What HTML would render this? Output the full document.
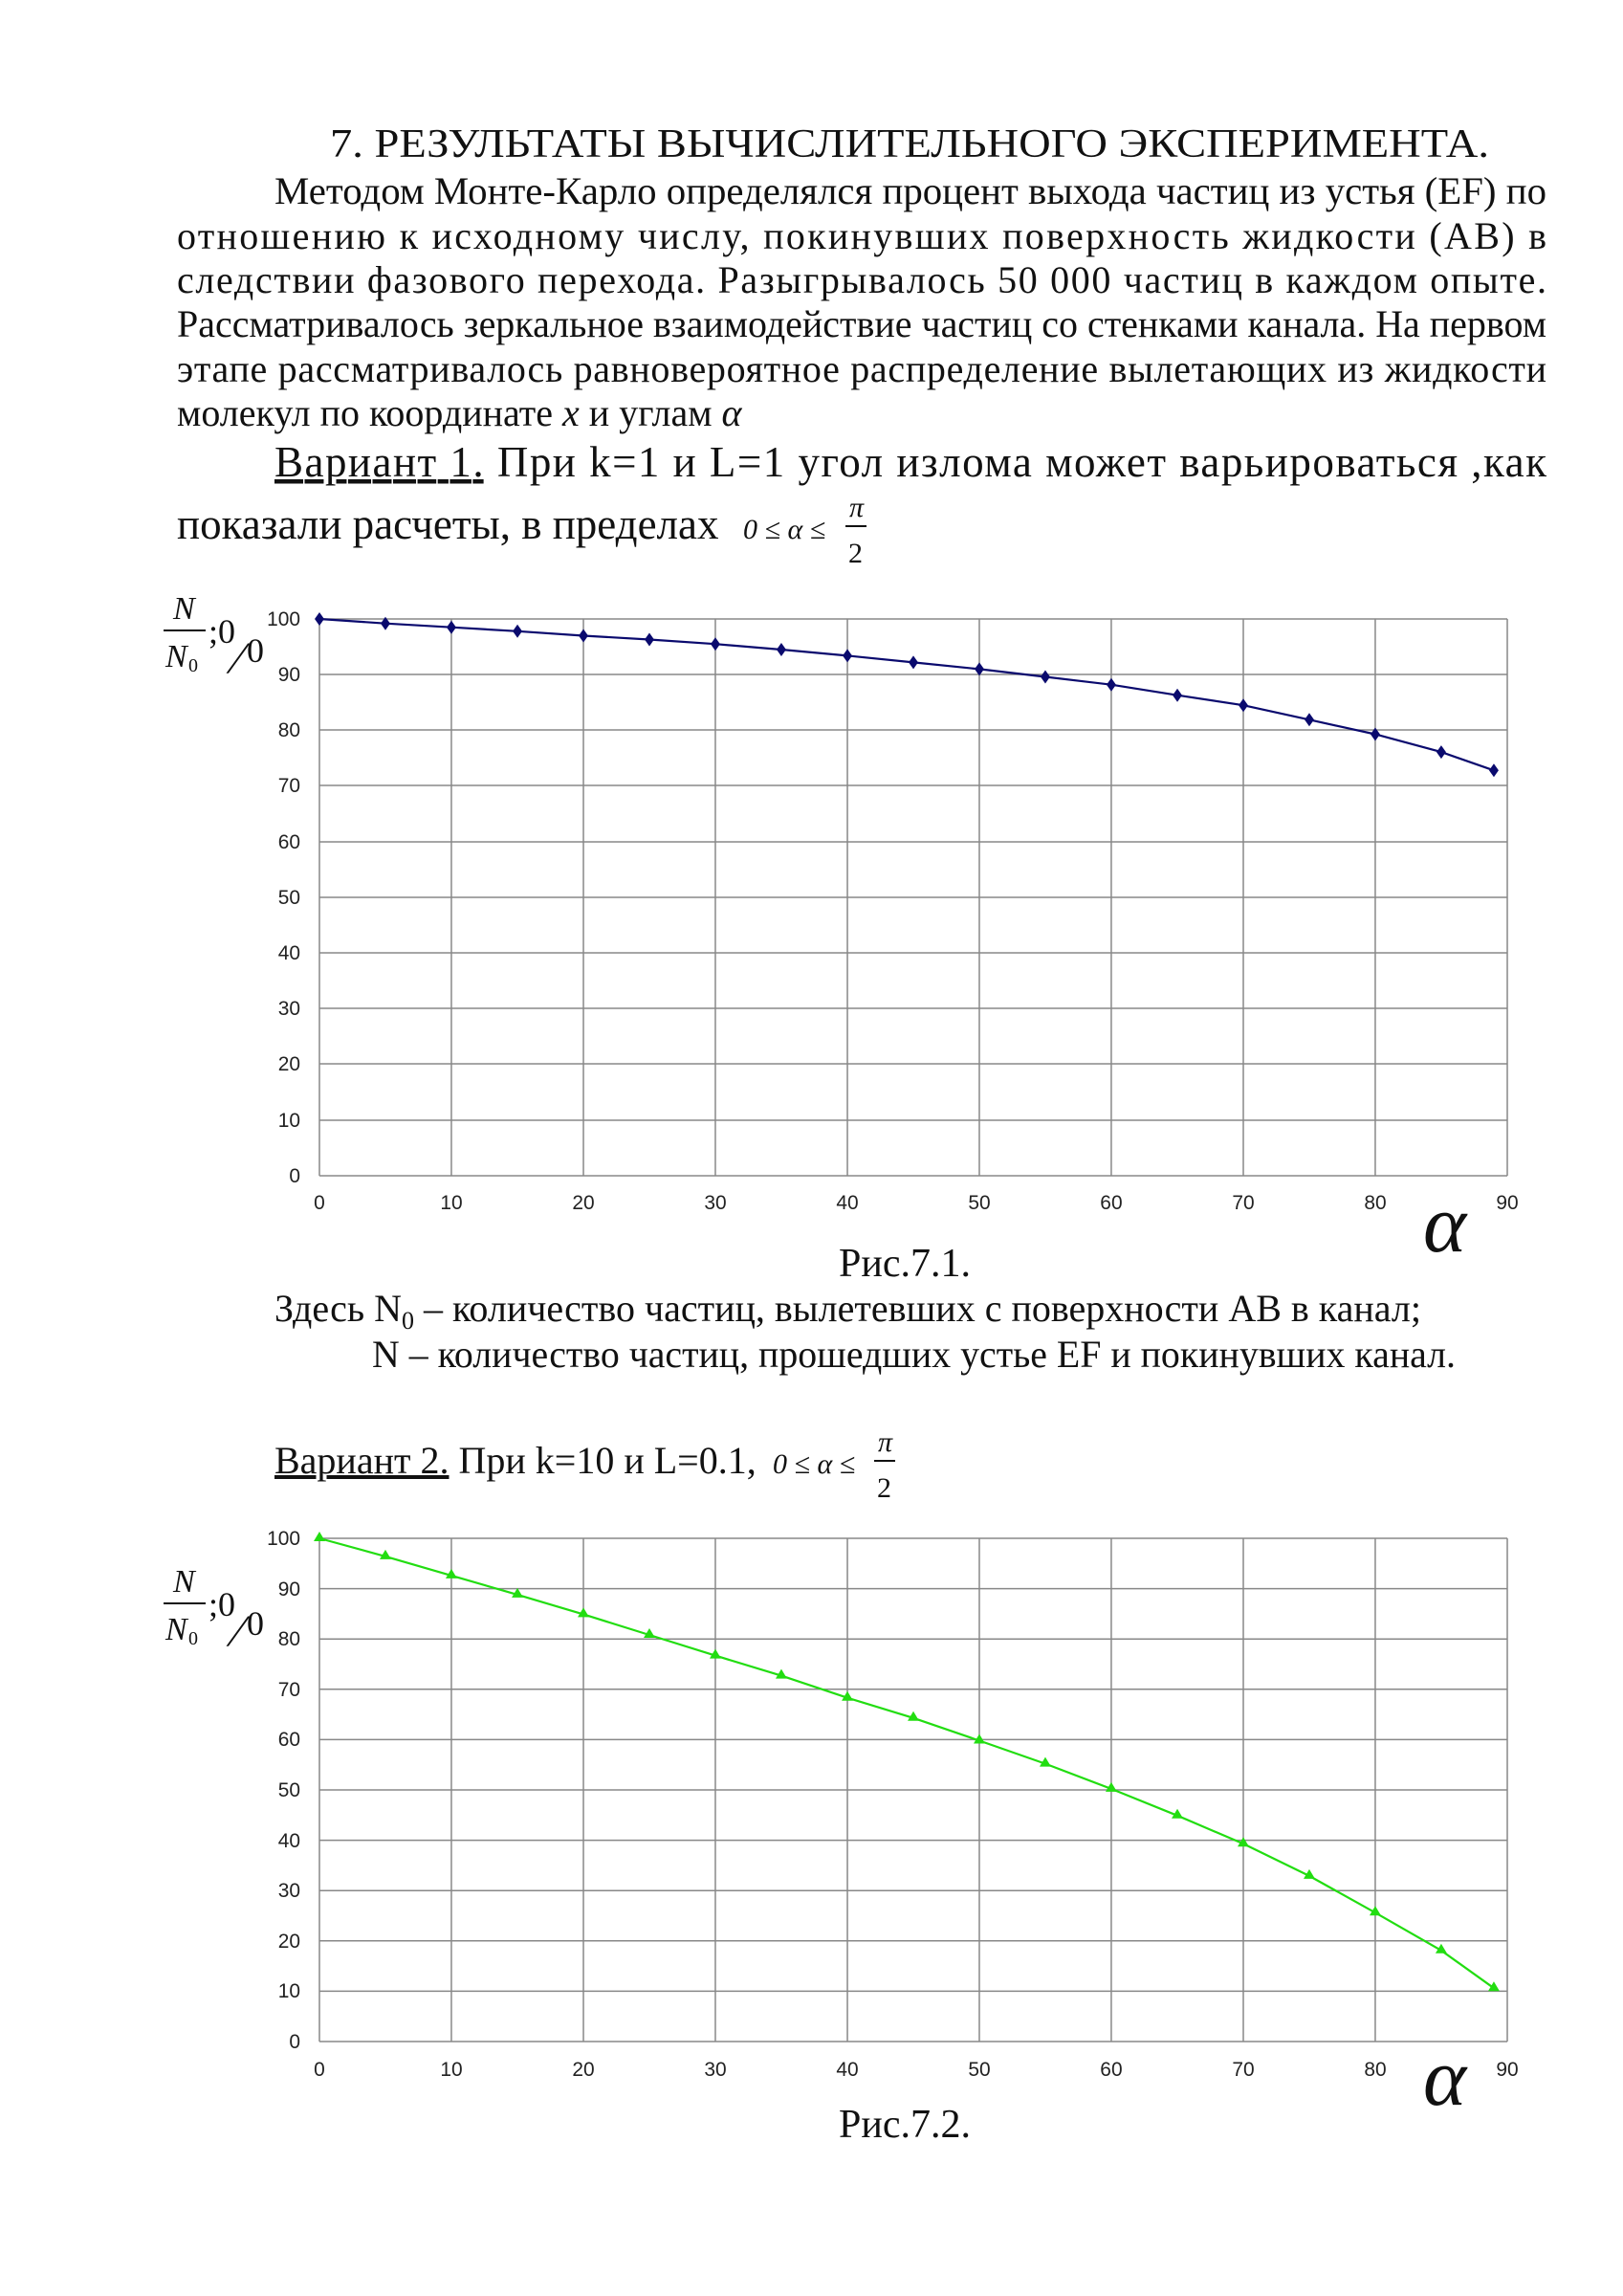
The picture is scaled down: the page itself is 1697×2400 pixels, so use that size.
<!DOCTYPE html>
<html><head><meta charset="utf-8"><style>
html,body{margin:0;padding:0;background:#fff}
svg{display:block}
.t{font-family:"Liberation Serif",serif;fill:#111}
.a{font-family:"Liberation Sans",sans-serif;font-size:21px;fill:#222}
</style></head><body>
<svg width="1697" height="2400" viewBox="0 0 1697 2400" xmlns="http://www.w3.org/2000/svg">
<rect width="1697" height="2400" fill="#fff"/>
<g class="t" font-size="40">
<text x="345" y="164" font-size="42" textLength="1212" lengthAdjust="spacingAndGlyphs">7. РЕЗУЛЬТАТЫ ВЫЧИСЛИТЕЛЬНОГО ЭКСПЕРИМЕНТА.</text>
<text x="287" y="213" textLength="1330" lengthAdjust="spacingAndGlyphs">Методом Монте-Карло определялся процент выхода частиц из устья (EF) по</text>
<text x="185" y="260" textLength="1432" lengthAdjust="spacing">отношению к исходному числу, покинувших поверхность жидкости (AB) в</text>
<text x="185" y="306" textLength="1432" lengthAdjust="spacing">следствии фазового перехода. Разыгрывалось 50 000 частиц в каждом опыте.</text>
<text x="185" y="352" textLength="1432" lengthAdjust="spacingAndGlyphs">Рассматривалось зеркальное взаимодействие частиц со стенками канала. На первом</text>
<text x="185" y="399" textLength="1432" lengthAdjust="spacing">этапе рассматривалось равновероятное распределение вылетающих из жидкости</text>
<text x="185" y="445">молекул по координате <tspan font-style="italic">x</tspan> и углам <tspan font-style="italic">α</tspan></text>
<text x="287" y="498" font-size="45" textLength="1330" lengthAdjust="spacing"><tspan text-decoration="underline">Вариант 1.</tspan> При k=1 и L=1 угол излома может варьироваться ,как</text>
<text x="185" y="563" font-size="45">показали расчеты, в пределах</text>
<text x="777" y="563" font-size="30" font-style="italic">0 ≤ α ≤</text>
<text x="888" y="540" font-size="30" font-style="italic">π</text>
<line x1="884" y1="550" x2="906" y2="550" stroke="#111" stroke-width="2"/>
<text x="887" y="588" font-size="30">2</text>

<text x="877" y="1334" font-size="42">Рис.7.1.</text>
<text x="287" y="1381">Здесь N<tspan font-size="26" dy="8">0</tspan><tspan dy="-8"> – количество частиц, вылетевших с поверхности AB в канал;</tspan></text>
<text x="389" y="1429" textLength="1133" lengthAdjust="spacingAndGlyphs">N – количество частиц, прошедших устье EF и покинувших канал.</text>
<text x="287" y="1540"><tspan text-decoration="underline">Вариант 2.</tspan> При k=10 и L=0.1,</text>
<text x="808" y="1540" font-size="30" font-style="italic">0 ≤ α ≤</text>
<text x="918" y="1517" font-size="30" font-style="italic">π</text>
<line x1="914" y1="1527" x2="936" y2="1527" stroke="#111" stroke-width="2"/>
<text x="917" y="1565" font-size="30">2</text>
<text x="877" y="2234" font-size="42">Рис.7.2.</text>
</g>

<g transform="translate(334,0) scale(0.9968,1) translate(-336,0)">
<g stroke="#888" stroke-width="1.5">
<line x1="336" y1="647" x2="1582" y2="647"/><line x1="336" y1="705" x2="1582" y2="705"/><line x1="336" y1="763" x2="1582" y2="763"/><line x1="336" y1="821" x2="1582" y2="821"/><line x1="336" y1="880" x2="1582" y2="880"/><line x1="336" y1="938" x2="1582" y2="938"/><line x1="336" y1="996" x2="1582" y2="996"/><line x1="336" y1="1054" x2="1582" y2="1054"/><line x1="336" y1="1112" x2="1582" y2="1112"/><line x1="336" y1="1171" x2="1582" y2="1171"/><line x1="336" y1="1229" x2="1582" y2="1229"/>
<line x1="336" y1="647" x2="336" y2="1229"/><line x1="474.4" y1="647" x2="474.4" y2="1229"/><line x1="612.9" y1="647" x2="612.9" y2="1229"/><line x1="751.3" y1="647" x2="751.3" y2="1229"/><line x1="889.8" y1="647" x2="889.8" y2="1229"/><line x1="1028.2" y1="647" x2="1028.2" y2="1229"/><line x1="1166.6" y1="647" x2="1166.6" y2="1229"/><line x1="1305.1" y1="647" x2="1305.1" y2="1229"/><line x1="1443.5" y1="647" x2="1443.5" y2="1229"/><line x1="1582" y1="647" x2="1582" y2="1229"/>
</g>
<g class="a" text-anchor="end">
<text x="316" y="654">100</text><text x="316" y="712">90</text><text x="316" y="770">80</text><text x="316" y="828">70</text><text x="316" y="887">60</text><text x="316" y="945">50</text><text x="316" y="1003">40</text><text x="316" y="1061">30</text><text x="316" y="1119">20</text><text x="316" y="1178">10</text><text x="316" y="1236">0</text>
</g>
<g class="a" text-anchor="middle">
<text x="336" y="1264">0</text><text x="474.4" y="1264">10</text><text x="612.9" y="1264">20</text><text x="751.3" y="1264">30</text><text x="889.8" y="1264">40</text><text x="1028.2" y="1264">50</text><text x="1166.6" y="1264">60</text><text x="1305.1" y="1264">70</text><text x="1443.5" y="1264">80</text><text x="1582" y="1264">90</text>
</g>
<polyline fill="none" stroke="#0a0a6e" stroke-width="2.2" points="336,647 405.2,651.7 474.4,655.7 543.7,659.8 612.9,664.5 682.1,668.5 751.3,673.2 820.5,679 889.8,685.4 959,692.4 1028.2,699.4 1097.4,707.5 1166.6,715.7 1235.9,726.7 1305.1,737.2 1374.3,752.3 1443.5,767.5 1512.7,786.1 1567.9,805.3"/>
<g fill="#0a0a6e">
<path d="M336,640l5,7l-5,7l-5,-7z"/><path d="M405.2,644.7l5,7l-5,7l-5,-7z"/><path d="M474.4,648.7l5,7l-5,7l-5,-7z"/><path d="M543.7,652.8l5,7l-5,7l-5,-7z"/><path d="M612.9,657.5l5,7l-5,7l-5,-7z"/><path d="M682.1,661.5l5,7l-5,7l-5,-7z"/><path d="M751.3,666.2l5,7l-5,7l-5,-7z"/><path d="M820.5,672l5,7l-5,7l-5,-7z"/><path d="M889.8,678.4l5,7l-5,7l-5,-7z"/><path d="M959,685.4l5,7l-5,7l-5,-7z"/><path d="M1028.2,692.4l5,7l-5,7l-5,-7z"/><path d="M1097.4,700.5l5,7l-5,7l-5,-7z"/><path d="M1166.6,708.7l5,7l-5,7l-5,-7z"/><path d="M1235.9,719.7l5,7l-5,7l-5,-7z"/><path d="M1305.1,730.2l5,7l-5,7l-5,-7z"/><path d="M1374.3,745.3l5,7l-5,7l-5,-7z"/><path d="M1443.5,760.5l5,7l-5,7l-5,-7z"/><path d="M1512.7,779.1l5,7l-5,7l-5,-7z"/><path d="M1567.9,798.3l5,7l-5,7l-5,-7z"/>
</g>

<g stroke="#888" stroke-width="1.5">
<line x1="336" y1="1608" x2="1582" y2="1608"/><line x1="336" y1="1660.6" x2="1582" y2="1660.6"/><line x1="336" y1="1713.2" x2="1582" y2="1713.2"/><line x1="336" y1="1765.8" x2="1582" y2="1765.8"/><line x1="336" y1="1818.4" x2="1582" y2="1818.4"/><line x1="336" y1="1871" x2="1582" y2="1871"/><line x1="336" y1="1923.6" x2="1582" y2="1923.6"/><line x1="336" y1="1976.2" x2="1582" y2="1976.2"/><line x1="336" y1="2028.8" x2="1582" y2="2028.8"/><line x1="336" y1="2081.4" x2="1582" y2="2081.4"/><line x1="336" y1="2134" x2="1582" y2="2134"/>
<line x1="336" y1="1608" x2="336" y2="2134"/><line x1="474.4" y1="1608" x2="474.4" y2="2134"/><line x1="612.9" y1="1608" x2="612.9" y2="2134"/><line x1="751.3" y1="1608" x2="751.3" y2="2134"/><line x1="889.8" y1="1608" x2="889.8" y2="2134"/><line x1="1028.2" y1="1608" x2="1028.2" y2="2134"/><line x1="1166.6" y1="1608" x2="1166.6" y2="2134"/><line x1="1305.1" y1="1608" x2="1305.1" y2="2134"/><line x1="1443.5" y1="1608" x2="1443.5" y2="2134"/><line x1="1582" y1="1608" x2="1582" y2="2134"/>
</g>
<g class="a" text-anchor="end">
<text x="316" y="1615">100</text><text x="316" y="1668">90</text><text x="316" y="1720">80</text><text x="316" y="1773">70</text><text x="316" y="1825">60</text><text x="316" y="1878">50</text><text x="316" y="1931">40</text><text x="316" y="1983">30</text><text x="316" y="2036">20</text><text x="316" y="2088">10</text><text x="316" y="2141">0</text>
</g>
<g class="a" text-anchor="middle">
<text x="336" y="2170">0</text><text x="474.4" y="2170">10</text><text x="612.9" y="2170">20</text><text x="751.3" y="2170">30</text><text x="889.8" y="2170">40</text><text x="1028.2" y="2170">50</text><text x="1166.6" y="2170">60</text><text x="1305.1" y="2170">70</text><text x="1443.5" y="2170">80</text><text x="1582" y="2170">90</text>
</g>
<polyline fill="none" stroke="#22dd11" stroke-width="2.2" points="336,1608 405.2,1626.9 474.4,1646.9 543.7,1666.9 612.9,1687.4 682.1,1709 751.3,1730.6 820.5,1751.6 889.8,1774.7 959,1795.8 1028.2,1819.5 1097.4,1843.6 1166.6,1869.9 1235.9,1897.8 1305.1,1927.3 1374.3,1960.9 1443.5,1999.3 1512.7,2038.8 1567.9,2078.2"/>
<g fill="#22dd11">
<path d="M336,1601l6,10h-12z"/><path d="M405.2,1619.9l6,10h-12z"/><path d="M474.4,1639.9l6,10h-12z"/><path d="M543.7,1659.9l6,10h-12z"/><path d="M612.9,1680.4l6,10h-12z"/><path d="M682.1,1702l6,10h-12z"/><path d="M751.3,1723.6l6,10h-12z"/><path d="M820.5,1744.6l6,10h-12z"/><path d="M889.8,1767.7l6,10h-12z"/><path d="M959,1788.8l6,10h-12z"/><path d="M1028.2,1812.5l6,10h-12z"/><path d="M1097.4,1836.6l6,10h-12z"/><path d="M1166.6,1862.9l6,10h-12z"/><path d="M1235.9,1890.8l6,10h-12z"/><path d="M1305.1,1920.3l6,10h-12z"/><path d="M1374.3,1953.9l6,10h-12z"/><path d="M1443.5,1992.3l6,10h-12z"/><path d="M1512.7,2031.8l6,10h-12z"/><path d="M1567.9,2071.2l6,10h-12z"/>
</g>
</g>

<g class="t">
<text x="181" y="647" font-size="34" font-style="italic">N</text>
<line x1="171" y1="659" x2="215" y2="659" stroke="#111" stroke-width="2"/>
<text x="173" y="697" font-size="34" font-style="italic">N</text><text x="197" y="702" font-size="20">0</text>
<text x="218" y="672" font-size="36">;0</text>
<text x="245" y="704" font-size="48">⁄</text>
<text x="258" y="692" font-size="36">0</text>
<text x="1488" y="1308" font-size="86" font-style="italic">α</text>

<text x="181" y="1664" font-size="34" font-style="italic">N</text>
<line x1="171" y1="1676" x2="215" y2="1676" stroke="#111" stroke-width="2"/>
<text x="173" y="1714" font-size="34" font-style="italic">N</text><text x="197" y="1719" font-size="20">0</text>
<text x="218" y="1689" font-size="36">;0</text>
<text x="245" y="1721" font-size="48">⁄</text>
<text x="258" y="1709" font-size="36">0</text>
<text x="1488" y="2200" font-size="86" font-style="italic">α</text>
</g>
</svg>
</body></html>
